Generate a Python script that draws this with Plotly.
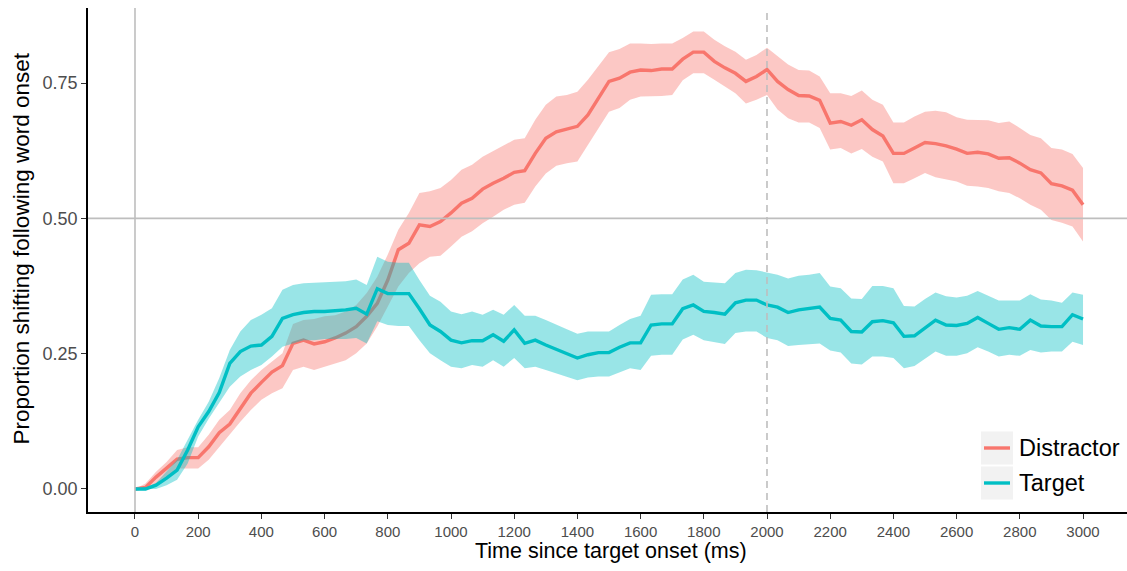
import plotly.graph_objects as go

# ---- data ----
time_ms = [0, 33.3, 66.7, 100, 133.3, 166.7, 200, 233.3, 266.7, 300,
           333.3, 366.7, 400, 433.3, 466.7, 500, 533.3, 566.7, 600, 633.3,
           666.7, 700, 733.3, 766.7, 800, 833.3, 866.7, 900, 933.3, 966.7,
           1000, 1033.3, 1066.7, 1100, 1133.3, 1166.7, 1200, 1233.3, 1266.7, 1300,
           1333.3, 1366.7, 1400, 1433.3, 1466.7, 1500, 1533.3, 1566.7, 1600, 1633.3,
           1666.7, 1700, 1733.3, 1766.7, 1800, 1833.3, 1866.7, 1900, 1933.3, 1966.7,
           2000, 2033.3, 2066.7, 2100, 2133.3, 2166.7, 2200, 2233.3, 2266.7, 2300,
           2333.3, 2366.7, 2400, 2433.3, 2466.7, 2500, 2533.3, 2566.7, 2600, 2633.3,
           2666.7, 2700, 2733.3, 2766.7, 2800, 2833.3, 2866.7, 2900, 2933.3, 2966.7,
           3000]

distractor_mean = [0.000, 0.003, 0.022, 0.038, 0.055, 0.058, 0.058, 0.078, 0.104, 0.120,
                   0.148, 0.177, 0.197, 0.216, 0.228, 0.269, 0.275, 0.268, 0.272, 0.279,
                   0.288, 0.300, 0.319, 0.343, 0.386, 0.442, 0.454, 0.488, 0.485, 0.494,
                   0.510, 0.528, 0.537, 0.554, 0.565, 0.574, 0.585, 0.588, 0.620, 0.648,
                   0.660, 0.665, 0.670, 0.691, 0.722, 0.753, 0.759, 0.770, 0.774, 0.773,
                   0.776, 0.776, 0.794, 0.807, 0.807, 0.790, 0.778, 0.768, 0.753, 0.762,
                   0.775, 0.753, 0.738, 0.727, 0.726, 0.718, 0.676, 0.679, 0.672, 0.682,
                   0.664, 0.652, 0.620, 0.620, 0.630, 0.640, 0.638, 0.634, 0.628, 0.620,
                   0.622, 0.619, 0.611, 0.612, 0.602, 0.590, 0.584, 0.564, 0.560, 0.552,
                   0.525]
distractor_upper = [0.000, 0.010, 0.032, 0.050, 0.072, 0.077, 0.077, 0.100, 0.128, 0.146,
                    0.177, 0.201, 0.220, 0.235, 0.251, 0.305, 0.312, 0.314, 0.319, 0.321,
                    0.328, 0.340, 0.362, 0.392, 0.433, 0.479, 0.510, 0.547, 0.550, 0.556,
                    0.571, 0.590, 0.599, 0.614, 0.624, 0.634, 0.645, 0.648, 0.682, 0.710,
                    0.725, 0.728, 0.734, 0.756, 0.781, 0.807, 0.813, 0.823, 0.823, 0.822,
                    0.823, 0.823, 0.833, 0.845, 0.845, 0.830, 0.818, 0.808, 0.793, 0.802,
                    0.815, 0.799, 0.784, 0.774, 0.773, 0.762, 0.731, 0.731, 0.726, 0.736,
                    0.719, 0.710, 0.677, 0.677, 0.688, 0.697, 0.699, 0.696, 0.687, 0.682,
                    0.682, 0.681, 0.676, 0.679, 0.667, 0.654, 0.648, 0.630, 0.627, 0.619,
                    0.593]
distractor_lower = [0.000, 0.000, 0.007, 0.023, 0.038, 0.038, 0.038, 0.054, 0.078, 0.100,
                    0.124, 0.146, 0.165, 0.177, 0.186, 0.220, 0.226, 0.220, 0.226, 0.232,
                    0.238, 0.251, 0.269, 0.300, 0.337, 0.374, 0.399, 0.417, 0.429, 0.431,
                    0.448, 0.466, 0.476, 0.491, 0.503, 0.516, 0.525, 0.529, 0.559, 0.583,
                    0.597, 0.602, 0.605, 0.636, 0.667, 0.697, 0.704, 0.719, 0.725, 0.725,
                    0.726, 0.728, 0.755, 0.768, 0.768, 0.756, 0.744, 0.731, 0.712, 0.719,
                    0.728, 0.701, 0.685, 0.677, 0.677, 0.667, 0.627, 0.630, 0.620, 0.628,
                    0.614, 0.605, 0.565, 0.565, 0.574, 0.584, 0.576, 0.572, 0.568, 0.560,
                    0.559, 0.556, 0.550, 0.547, 0.537, 0.525, 0.516, 0.497, 0.492, 0.485,
                    0.457]

target_mean = [0.000, 0.000, 0.007, 0.020, 0.035, 0.072, 0.115, 0.143, 0.178, 0.232,
               0.254, 0.264, 0.266, 0.282, 0.315, 0.322, 0.326, 0.328, 0.328, 0.329,
               0.331, 0.334, 0.323, 0.370, 0.361, 0.361, 0.361, 0.333, 0.303, 0.291,
               0.275, 0.270, 0.274, 0.274, 0.285, 0.273, 0.294, 0.269, 0.275, 0.266,
               0.258, 0.250, 0.242, 0.248, 0.252, 0.252, 0.262, 0.270, 0.270, 0.303,
               0.305, 0.305, 0.333, 0.340, 0.328, 0.326, 0.323, 0.344, 0.349, 0.349,
               0.340, 0.336, 0.326, 0.331, 0.333, 0.336, 0.315, 0.312, 0.291, 0.290,
               0.309, 0.311, 0.307, 0.282, 0.283, 0.297, 0.312, 0.303, 0.302, 0.306,
               0.317, 0.306, 0.295, 0.298, 0.295, 0.312, 0.301, 0.300, 0.300, 0.322,
               0.314]
target_upper = [0.000, 0.003, 0.011, 0.032, 0.054, 0.091, 0.128, 0.161, 0.205, 0.257,
                0.291, 0.312, 0.322, 0.334, 0.368, 0.377, 0.380, 0.381, 0.382, 0.382,
                0.384, 0.387, 0.377, 0.429, 0.420, 0.418, 0.418, 0.386, 0.357, 0.346,
                0.328, 0.323, 0.328, 0.322, 0.331, 0.322, 0.340, 0.320, 0.320, 0.312,
                0.303, 0.295, 0.287, 0.291, 0.291, 0.291, 0.303, 0.314, 0.320, 0.359,
                0.360, 0.360, 0.387, 0.396, 0.383, 0.381, 0.380, 0.399, 0.405, 0.404,
                0.400, 0.396, 0.389, 0.394, 0.396, 0.399, 0.374, 0.371, 0.352, 0.351,
                0.375, 0.375, 0.371, 0.338, 0.337, 0.351, 0.363, 0.356, 0.354, 0.357,
                0.366, 0.357, 0.348, 0.348, 0.348, 0.360, 0.350, 0.348, 0.344, 0.363,
                0.359]
target_lower = [0.000, 0.000, 0.000, 0.007, 0.017, 0.047, 0.097, 0.130, 0.160, 0.189,
                0.208, 0.220, 0.229, 0.245, 0.263, 0.269, 0.275, 0.275, 0.277, 0.277,
                0.277, 0.279, 0.269, 0.310, 0.303, 0.301, 0.301, 0.275, 0.251, 0.238,
                0.226, 0.223, 0.229, 0.226, 0.238, 0.226, 0.242, 0.223, 0.226, 0.220,
                0.214, 0.208, 0.201, 0.206, 0.208, 0.208, 0.215, 0.223, 0.220, 0.246,
                0.248, 0.248, 0.276, 0.285, 0.275, 0.272, 0.268, 0.288, 0.291, 0.291,
                0.279, 0.275, 0.264, 0.266, 0.268, 0.269, 0.256, 0.252, 0.232, 0.230,
                0.245, 0.245, 0.242, 0.223, 0.227, 0.240, 0.254, 0.246, 0.246, 0.251,
                0.262, 0.254, 0.245, 0.248, 0.246, 0.257, 0.252, 0.254, 0.254, 0.272,
                0.266]

series_names = ["Distractor", "Target"]
x_ticks = [0, 200, 400, 600, 800, 1000, 1200, 1400, 1600, 1800, 2000,
           2200, 2400, 2600, 2800, 3000]
y_ticks = [0.0, 0.25, 0.5, 0.75]
y_tick_labels = ["0.00", "0.25", "0.50", "0.75"]

# ---- styling ----
W, H = 1127, 571
L, R, T, B = 88, 0, 8, 59
RED, RED_FILL = "#F8766D", "rgba(248,118,109,0.4)"
CYAN, CYAN_FILL = "#00BFC4", "rgba(0,191,196,0.4)"
FONT = "Liberation Sans, Arial, Helvetica, sans-serif"

fig = go.Figure()

series = [
    (series_names[0], distractor_mean, distractor_lower, distractor_upper, RED, RED_FILL),
    (series_names[1], target_mean, target_lower, target_upper, CYAN, CYAN_FILL),
]
for name, mean, lo, hi, col, fillcol in series:
    fig.add_trace(go.Scatter(x=time_ms, y=lo, mode="lines", line=dict(width=0, color=fillcol),
                             showlegend=False, hoverinfo="skip"))
    fig.add_trace(go.Scatter(x=time_ms, y=hi, mode="lines", line=dict(width=0, color=fillcol),
                             fill="tonexty", fillcolor=fillcol, showlegend=False, hoverinfo="skip"))
    fig.add_trace(go.Scatter(x=time_ms, y=mean, mode="lines", name=name,
                             line=dict(color=col, width=3.4), showlegend=False))

pw = W - L - R
ph = H - T - B


def px2x(px):
    return (px - L) / pw


def py2y(py):
    return (H - B - py) / ph


shapes = [
    dict(type="line", xref="x", yref="paper", x0=0, x1=0, y0=0, y1=1,
         line=dict(color="#BEBEBE", width=1.6), layer="above"),
    dict(type="line", xref="paper", yref="y", x0=0, x1=1, y0=0.5, y1=0.5,
         line=dict(color="#BEBEBE", width=1.6), layer="above"),
    dict(type="line", xref="x", yref="paper", x0=2000, x1=2000, y0=0, y1=1,
         line=dict(color="#BEBEBE", width=1.6, dash="7px,5px"), layer="above"),
]

# manual legend (ggplot-style grey key boxes)
legend_rows = [(series_names[0], RED, 448), (series_names[1], CYAN, 483)]
annotations = []
for name, col, cy in legend_rows:
    shapes.append(dict(type="rect", xref="paper", yref="paper",
                       x0=px2x(981), x1=px2x(1013), y0=py2y(cy + 16.5), y1=py2y(cy - 16.5),
                       fillcolor="#F2F2F2", line=dict(width=0), layer="above"))
    shapes.append(dict(type="line", xref="paper", yref="paper",
                       x0=px2x(984), x1=px2x(1010), y0=py2y(cy), y1=py2y(cy),
                       line=dict(color=col, width=3.4), layer="above"))
    annotations.append(dict(text=name, xref="paper", yref="paper", x=px2x(1017), y=py2y(cy),
                            xanchor="left", yanchor="middle", showarrow=False,
                            font=dict(family=FONT, size=23.5, color="black")))

annotations.append(dict(text="Time since target onset (ms)", xref="paper", yref="paper",
                        x=px2x(611), y=0, yshift=-39, xanchor="center", yanchor="middle",
                        showarrow=False, font=dict(family=FONT, size=21.5, color="black")))
annotations.append(dict(text="Proportion shifting following word onset", xref="paper", yref="paper",
                        x=0, xshift=-(L - 21), y=py2y(248.5), xanchor="center", yanchor="middle",
                        textangle=-90, showarrow=False,
                        font=dict(family=FONT, size=22.5, color="black")))

fig.update_layout(
    width=W, height=H,
    margin=dict(l=L, r=R, t=T, b=B, pad=0),
    paper_bgcolor="white", plot_bgcolor="white",
    showlegend=False,
    shapes=shapes, annotations=annotations,
    font=dict(family=FONT),
)
fig.update_xaxes(range=[-148.7, 3139.2], tickvals=x_ticks, ticktext=[str(v) for v in x_ticks],
                 showgrid=False, zeroline=False, showline=True, linecolor="black", linewidth=1.6,
                 ticks="outside", ticklen=5, tickwidth=1.2, tickcolor="#333333",
                 tickfont=dict(family=FONT, size=15, color="#4D4D4D"))
fig.update_yaxes(range=[-0.0425, 0.8886], tickvals=y_ticks, ticktext=y_tick_labels,
                 showgrid=False, zeroline=False, showline=True, linecolor="black", linewidth=1.6,
                 ticks="outside", ticklen=5, tickwidth=1.2, tickcolor="#333333",
                 tickfont=dict(family=FONT, size=18, color="#4D4D4D"))

fig.write_html("out.html")
